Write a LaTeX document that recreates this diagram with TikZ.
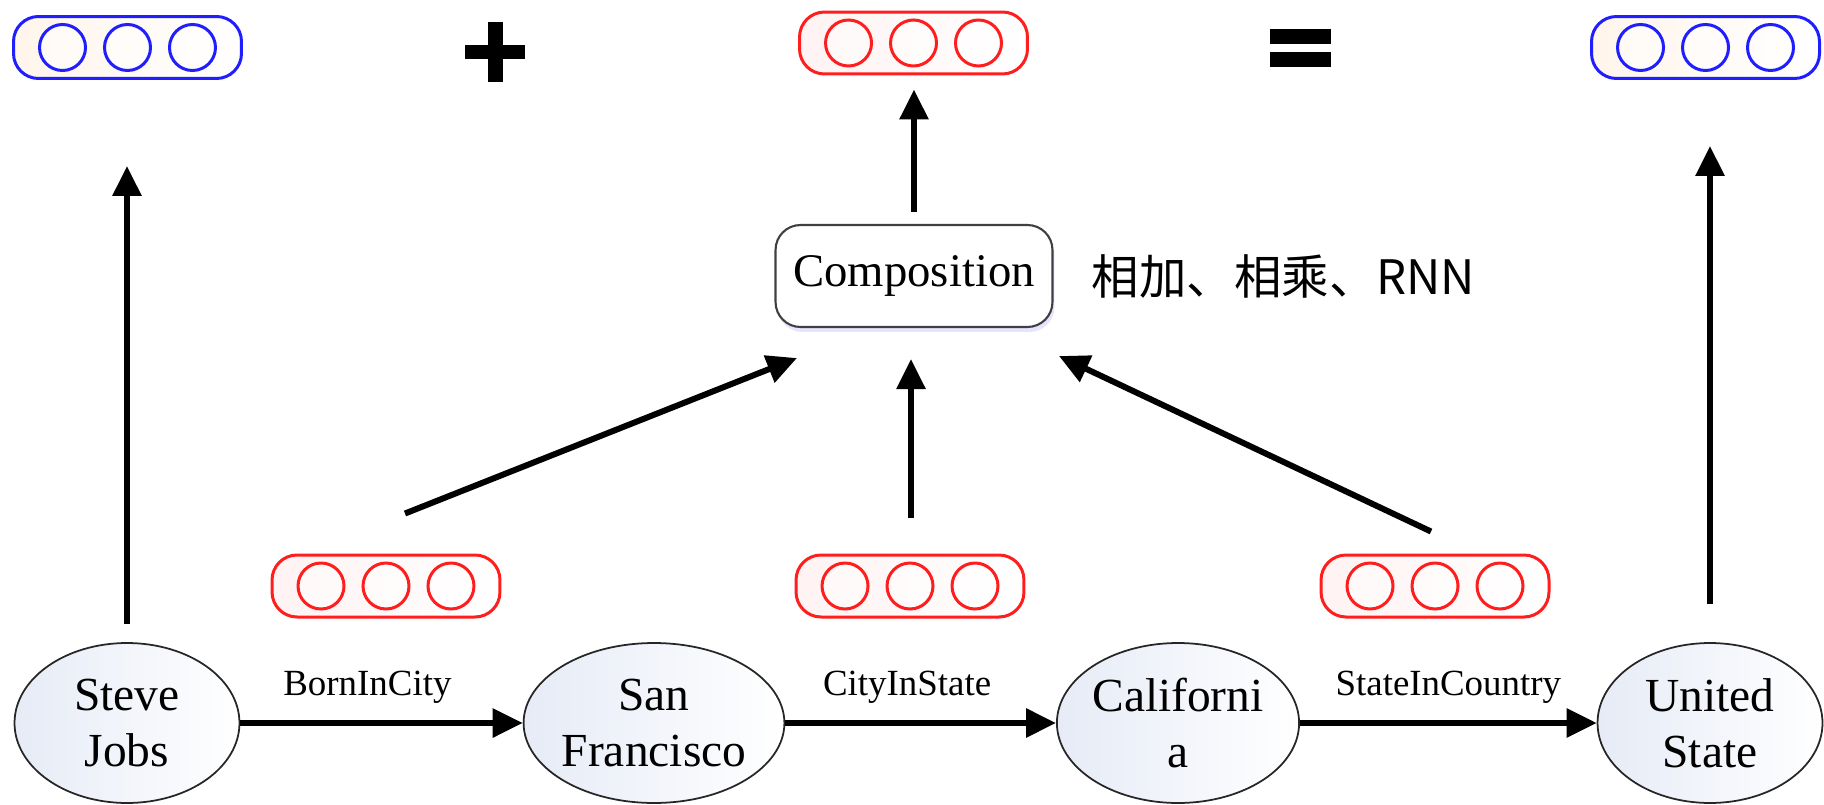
\documentclass[tikz,border=0pt]{standalone}
\usepackage{fontspec}
\setmainfont{Liberation Serif}
\newfontfamily\cjkfont{Noto Sans CJK SC}
\usepackage{tikz}
\usetikzlibrary{arrows.meta,positioning,shapes.geometric,shadows}

\definecolor{vecred}{RGB}{255,30,30}
\definecolor{vecblue}{RGB}{30,30,255}
\definecolor{entfill}{RGB}{230,235,246}

% embedding vector: rounded box with three cells
% #1 name, #2 centre, #3 line colour, #4 tint of the fill
\newcommand{\embvec}[4]{%
  \node[vecbox,draw=#3,left color=#4,right color=white] (#1) at (#2) {};
  \foreach \dx in {-1.3cm,0cm,1.3cm}
    \draw[draw=#3,line width=0.06cm,fill=white,fill opacity=0.5] ([xshift=\dx]#1.center) circle[radius=0.46cm];
}

\begin{document}
\begin{tikzpicture}[
  x=0.02cm,y=-0.02cm,
  vecbox/.style={rectangle,rounded corners=0.5cm,minimum width=4.56cm,minimum height=1.24cm,line width=0.06cm},
  entity/.style={draw=black!85,ellipse,minimum width=4.5cm,minimum height=3.2cm,inner sep=0pt,line width=1pt,left color=entfill,right color=white,align=center,font=\fontsize{27}{32}\selectfont},
  compbox/.style={draw=black!75,rectangle,rounded corners=0.5cm,minimum width=5.54cm,minimum height=2.04cm,line width=1.2pt,fill=white,drop shadow={shadow xshift=0.04cm,shadow yshift=-0.1cm,fill=blue!30,opacity=0.35},font=\fontsize{26.6}{31}\selectfont},
  rel/.style={above=0.34cm,inner sep=0pt,font=\fontsize{21}{25}\selectfont},
  arr/.style={-{Triangle[length=0.6cm,width=0.56cm]},line width=0.12cm}
]
\useasboundingbox (0,0) rectangle (1824,804);

% entities of the path
\node[entity] (sj) at (127,723) {Steve\\Jobs};
\node[entity] (sf) at (654,723) {San\\Francisco};
\node[entity] (ca) at (1178,723) {Californi\\a};
\node[entity] (us) at (1710,723) {United\\State};

\draw[arr] (sj) -- node[rel,pos=.45] {BornInCity} (sf);
\draw[arr] (sf) -- node[rel,pos=.45] {CityInState} (ca);
\draw[arr] (ca) -- node[rel] {StateInCountry} (us);

% relation vectors
\embvec{r1}{386,586}{vecred}{red!5}
\embvec{r2}{910,586}{vecred}{red!5}
\embvec{r3}{1435,586}{vecred}{red!5}

\node[compbox] (comp) at (914,276) {Composition};
\node[right=0.76cm of comp,inner sep=0pt,font=\cjkfont\fontsize{27}{30}\selectfont] (ops) {相加、相乘、RNN};

\draw[arr] ([shift={(19,-40)}]r1.north) -- ([shift={(-117,30)}]comp.south);
\draw[arr] ([shift={(1,-36)}]r2.north) -- ([shift={(-3,31)}]comp.south);
\draw[arr] ([shift={(-4,-22)}]r3.north) -- ([shift={(145,28)}]comp.south);

% top row: head + path = tail
\embvec{hv}{127.5,47.5}{vecblue}{orange!8}
\embvec{pv}{913.5,43}{vecred}{red!5}
\embvec{tv}{1705.5,47.5}{vecblue}{orange!8}

\draw[arr,shorten <=0.24cm,shorten >=0.28cm] (comp) -- (comp |- pv.south);
\draw[arr,shorten <=0.36cm,shorten >=1.72cm] (sj) -- (sj |- hv.south);
\draw[arr,shorten <=0.76cm,shorten >=1.32cm] (us) -- (us |- tv.south);

% plus and equals signs
\fill (465,45) rectangle (525,59);
\fill (488,22) rectangle (503,82);
\fill (1270,29) rectangle (1331,44);
\fill (1270,52) rectangle (1331,67);
\end{tikzpicture}
\end{document}
